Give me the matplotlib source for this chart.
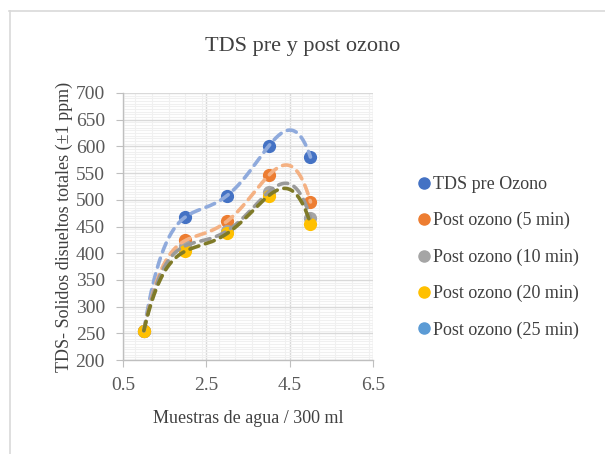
import numpy as np
import matplotlib
matplotlib.use('Agg')
import matplotlib.pyplot as plt
from matplotlib.lines import Line2D
from matplotlib.ticker import MultipleLocator

plt.rcParams['font.family'] = ['Liberation Serif', 'DejaVu Serif']

# data
muestras = [1, 2, 3, 4, 5]
tds_pre = [255, 468, 508, 601, 580]
post_5 = [255, 424, 460, 546, 496]
post_10 = [255, 414, 442, 515, 466]
post_20 = [255, 404, 437, 508, 455]
series_names = ['TDS pre Ozono', 'Post ozono (5 min)', 'Post ozono (10 min)',
                'Post ozono (20 min)', 'Post ozono (25 min)']

marker_colors = ['#4472C4', '#ED7D31', '#A5A5A5', '#FFC000', '#5B9BD5']
trend_colors = ['#8FAADC', '#F4B183', '#9A9A9A', '#7F7A28']

fig = plt.figure(figsize=(6.05, 4.54), dpi=100)
ax = fig.add_axes([0.2033, 0.2070, 0.4132, 0.5882])

# chart frame (top and left edge visible)
fig.add_artist(Line2D([9/605, 1.0], [1-11/454, 1-11/454], color='#D9D9D9', lw=1.2))
fig.add_artist(Line2D([9.5/605, 9.5/605], [0, 1-11/454], color='#D9D9D9', lw=1.2))

data = [tds_pre, post_5, post_10, post_20]
for vals, c in zip(data, marker_colors):
    ax.plot(muestras, vals, 'o', color=c, ms=8.5, zorder=3)

# 4th order polynomial trendlines (dashed)
xs = np.linspace(muestras[0], muestras[-1], 200)
for vals, c in zip(data, trend_colors):
    coef = np.polyfit(muestras, vals, 4)
    ax.plot(xs, np.polyval(coef, xs), color=c, lw=2.6, ls=(0, (2.6, 1.9)),
            dash_capstyle='round', zorder=4)

ax.set_xlim(0.5, 6.5)
ax.set_ylim(200, 700)
ax.xaxis.set_major_locator(MultipleLocator(2))
ax.xaxis.set_minor_locator(MultipleLocator(0.4))
ax.yaxis.set_major_locator(MultipleLocator(50))
ax.yaxis.set_minor_locator(MultipleLocator(5))
ax.set_xticks([0.5, 2.5, 4.5, 6.5])

ax.grid(which='major', color='#D9D9D9', lw=1.0)
ax.grid(which='minor', color='#F0F0F0', lw=0.8)
ax.set_axisbelow(True)
for s in ['top', 'right']:
    ax.spines[s].set_visible(False)
for s in ['left', 'bottom']:
    ax.spines[s].set_color('#BFBFBF')
    ax.spines[s].set_linewidth(1.0)
ax.tick_params(which='major', colors='#BFBFBF', length=5, labelcolor='#595959', labelsize=14)
ax.tick_params(axis='y', pad=8)
ax.tick_params(axis='x', pad=7)
ax.tick_params(which='minor', length=0)

ax.set_xlabel('Muestras de agua / 300 ml', fontsize=13, color='#404040', labelpad=12)
ax.set_ylabel('TDS- Solidos disueltos totales (±1 ppm)', fontsize=13, color='#404040', labelpad=2)
fig.text(0.5, 1-47/454, 'TDS pre y post ozono', ha='center', va='center',
         fontsize=16, color='#404040')

handles = [Line2D([], [], ls='', marker='o', color=c, ms=8) for c in marker_colors]
fig.legend(handles, series_names, loc='upper left', bbox_to_anchor=(410/605, 1-167/454),
           frameon=False, fontsize=13, handlelength=0.6, handletextpad=0.2,
           labelspacing=1.06, labelcolor='#404040', borderpad=0)

fig.savefig('out.png', dpi=100)
